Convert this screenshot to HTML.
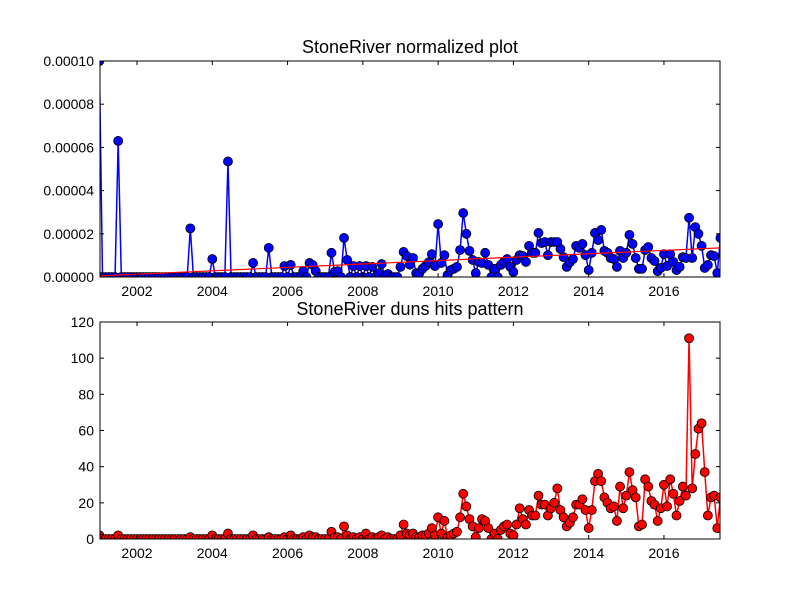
<!DOCTYPE html>
<html><head><meta charset="utf-8"><style>
body{margin:0;background:#fff;}
svg{display:block;font-family:"Liberation Sans","DejaVu Sans",sans-serif;}
</style></head><body>
<svg id="chart" width="800" height="600" xmlns="http://www.w3.org/2000/svg">
<rect width="800" height="600" fill="#fff"/>
<defs>
<clipPath id="c1"><rect x="100" y="61" width="620" height="216"/></clipPath>
<clipPath id="c2"><rect x="100" y="322" width="620" height="217"/></clipPath>
</defs>
<text x="410" y="53" font-size="18" text-anchor="middle">StoneRiver normalized plot</text>
<text x="410" y="315" font-size="18" text-anchor="middle">StoneRiver duns hits pattern</text>
<g id="g"></g>
</svg>
<script>
const startYear = 2001;
const xTicks = [2002, 2004, 2006, 2008, 2010, 2012, 2014, 2016];
const topTicks = [0, 2, 4, 6, 8, 10];
const topTickLabels = ["0.00000","0.00002","0.00004","0.00006","0.00008","0.00010"];
const bottomTicks = [0, 20, 40, 60, 80, 100, 120];
const trendValues = [0.05, 1.35];
const hits = [
2,0,0,0,0,0,2,0,0,0,0,0,
0,0,0,0,0,0,0,0,0,0,0,0,
0,0,0,0,0,1,0,0,0,0,0,0,
2,0,0,0,0,3,0,0,0,0,0,0,
0,2,0,0,0,0,1,0,0,0,0,1,
0,2,0,0,0,1,0,2,1,1,0,0,
0,0,4,1,1,0,7,2,0,1,0,1,
0,3,0,1,0,1,2,0,1,0,0,0,
2,8,3,2,3,1,1,2,2,3,6,2,
12,3,10,1,2,3,4,12,25,18,11,7,
1,6,11,10,6,0,3,0,5,7,8,3,
2,8,17,11,8,16,13,13,24,19,19,13,
17,20,28,16,12,7,9,12,19,19,22,16,
6,16,32,36,32,23,20,17,18,10,29,17,
24,37,27,23,7,8,33,29,21,19,10,17,
30,18,33,25,13,21,29,24,111,28,47,61,
64,37,13,23,24,6,23];
const normalized = [
10,0,0,0,0,0,6.3,0,0,0,0,0,
0,0,0,0,0,0,0,0,0,0,0,0,
0,0,0,0,0,2.25,0,0,0,0,0,0,
0.83,0,0,0,0,5.35,0,0,0,0,0,0,
0,0.65,0,0,0,0,1.35,0,0,0,0,0.51,
0,0.56,0,0,0,0.27,0,0.65,0.56,0.27,0,0,
0,0,1.12,0.23,0.27,0,1.81,0.79,0,0.51,0,0.51,
0,0.51,0,0.47,0,0.18,0.6,0,0.14,0,0,0,
0.47,1.16,0.97,0.57,0.88,0.18,0.18,0.38,0.51,0.68,1.06,0.51,
2.45,0.65,1.01,0.09,0.32,0.38,0.47,1.25,2.96,2.0,1.21,0.79,
0.18,0.7,0.65,1.12,0.56,0,0.38,0,0.56,0.7,0.83,0.47,
0.23,0.79,1.01,0.97,0.7,1.44,1.12,1.12,2.04,1.57,1.62,1.01,
1.62,1.62,1.62,1.3,0.92,0.47,0.68,0.83,1.44,1.35,1.53,1.01,
0.32,1.12,2.04,1.71,2.18,1.21,1.12,0.88,0.83,0.47,1.21,0.88,
1.12,1.95,1.53,0.88,0.38,0.38,1.25,1.39,0.88,0.74,0.27,0.42,
1.06,0.51,1.06,0.7,0.32,0.47,0.92,0.88,2.74,0.88,2.31,2.0,
1.44,0.42,0.56,1.01,0.97,0.18,1.81];

const NS = "http://www.w3.org/2000/svg";
const g = document.getElementById('g');
function mk(tag, attrs, parent){const e=document.createElementNS(NS,tag);for(const k in attrs)e.setAttribute(k,attrs[k]);(parent||g).appendChild(e);return e;}
const L=100,R=720;
const xScale = yr => 137 + (yr - 2002) * 37.64;
const monthYear = i => startYear + i/12;
const yTop = v => 277 - v * 21.6;
const yBot = v => 539 - v * (217/120);

function drawAxes(top, bot, yt, yfn, labels, name){
  const frame = mk('rect',{x:L,y:top,width:R-L,height:bot-top,fill:'none',stroke:'#000','stroke-width':1});
  
  
  xTicks.forEach(t=>{
    const x=xScale(t);
    mk('line',{x1:x,x2:x,y1:bot,y2:bot-4,stroke:'#000'});
    mk('line',{x1:x,x2:x,y1:top,y2:top+4,stroke:'#000'});
    const tx=mk('text',{x:x,y:bot+19,'font-size':14,'text-anchor':'middle'});
    tx.textContent=t;
    
    
  });
  yt.forEach((t,k)=>{
    const y=yfn(t);
    mk('line',{x1:L,x2:L+4,y1:y,y2:y,stroke:'#000'});
    mk('line',{x1:R,x2:R-4,y1:y,y2:y,stroke:'#000'});
    const tx=mk('text',{x:94,y:y+5,'font-size':14,'text-anchor':'end'});
    tx.textContent=labels?labels[k]:t;
    
    
  });
}
function drawSeries(vals, yfn, color, clip, name){
  const grp=mk('g',{'clip-path':'url(#'+clip+')'});
  
  
  const pts=vals.map((v,i)=>xScale(monthYear(i)).toFixed(2)+','+yfn(v).toFixed(2)).join(' ');
  mk('polyline',{points:pts,fill:'none',stroke:color,'stroke-width':1.5},grp);
  vals.forEach((v,i)=>{
    const c=mk('circle',{cx:xScale(monthYear(i)),cy:yfn(v),r:4.5,fill:color,stroke:'#000','stroke-width':0.8},grp);
    
    
  });
  return grp;
}
drawSeries(normalized, yTop, '#0000ff', 'c1', 'normalized');
const endYr = monthYear(hits.length-1);
const trend = mk('line',{x1:xScale(startYear),y1:yTop(trendValues[0]),x2:xScale(endYr),y2:yTop(trendValues[1]),stroke:'#ff0000','stroke-width':1.2,'clip-path':'url(#c1)'});


drawSeries(hits, yBot, '#ff0000', 'c2', 'hits');
drawAxes(61, 277, topTicks, yTop, topTickLabels, 'top');
drawAxes(322, 539, bottomTicks, yBot, null, 'bottom');
</script>
</body></html>
